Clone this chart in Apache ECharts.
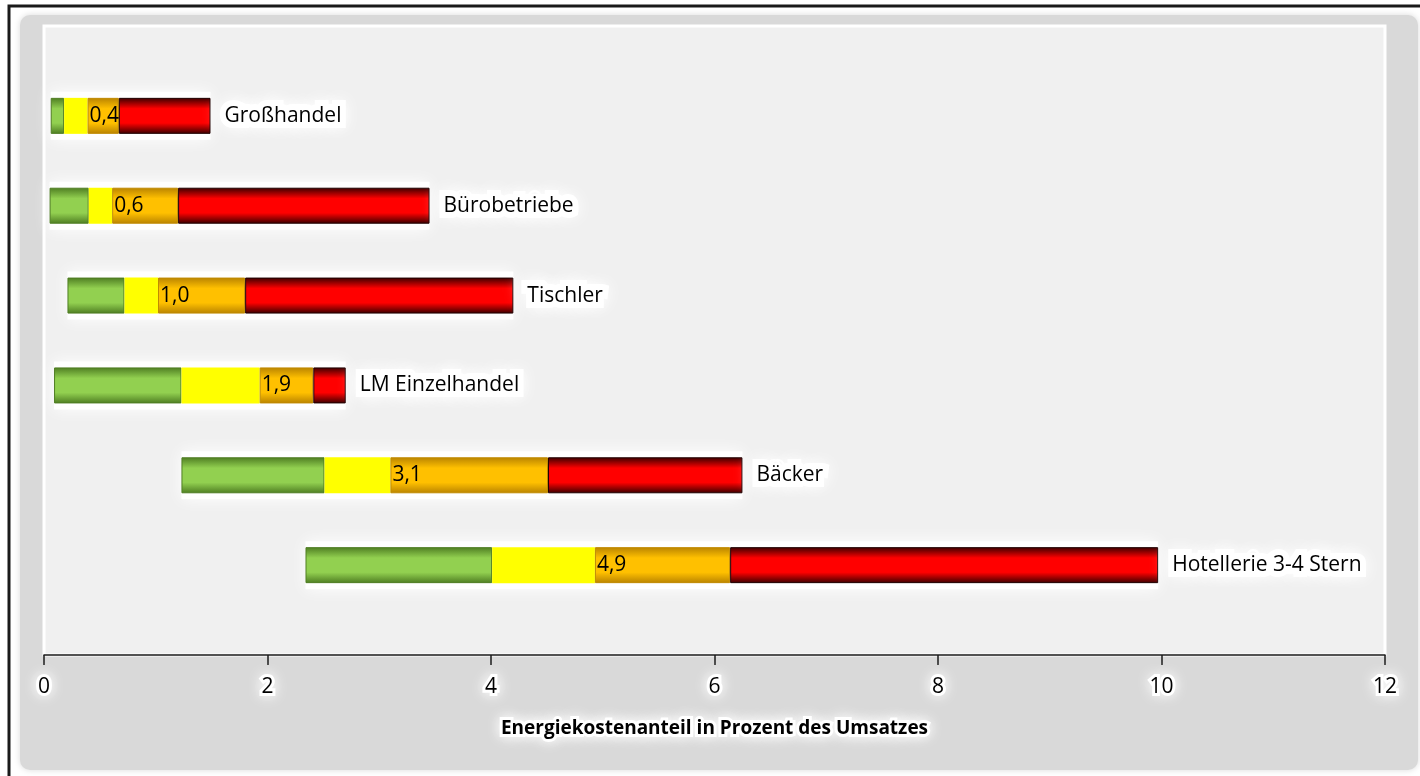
<!DOCTYPE html>
<html>
<head>
<meta charset="utf-8">
<script src="https://cdn.jsdelivr.net/npm/echarts@6/dist/echarts.min.js"></script>
<style>
  html, body { margin: 0; padding: 0; background: #fff; }
  #chart { width: 1420px; height: 776px; }
</style>
</head>
<body>
<div id="chart"></div>
<script>
// branches, top to bottom
const branches = ['Großhandel', 'Bürobetriebe', 'Tischler', 'LM Einzelhandel', 'Bäcker', 'Hotellerie 3-4 Stern'];
// segment lengths (percent of turnover), stacked left to right
const offset = [0.06, 0.05, 0.21, 0.09, 1.23, 2.34];
const green  = [0.12, 0.35, 0.51, 1.14, 1.28, 1.67];
const yellow = [0.21, 0.21, 0.30, 0.70, 0.59, 0.92];
const orange = [0.28, 0.59, 0.78, 0.48, 1.41, 1.21];
const red    = [0.82, 2.25, 2.40, 0.29, 1.74, 3.83];
const median = [0.4, 0.6, 1.0, 1.9, 3.1, 4.9];
const xTicks = [0, 2, 4, 6, 8, 10, 12];

// empty slot above and below so the bars sit like in the original
const pad = arr => ['-'].concat(arr, ['-']);
const span = green.map((v, i) => v + yellow[i] + orange[i] + red[i]);

let chart = echarts.init(document.getElementById('chart'));

const grad = (edge, mid) => new echarts.graphic.LinearGradient(0, 0, 0, 1, [
    { offset: 0, color: edge },
    { offset: 0.3, color: mid },
    { offset: 0.7, color: mid },
    { offset: 1, color: edge }
]);

const glowText = {
    textBorderColor: '#fff',
    textBorderWidth: 6,
    textShadowColor: '#fff',
    textShadowBlur: 14
};

const BAR_W = 36;

const catAxis = {
    type: 'category',
    inverse: true,
    boundaryGap: false,
    data: pad(branches),
    axisLine: { show: false },
    axisTick: { show: false },
    axisLabel: { show: false },
    splitLine: { show: false }
};

const option = {
    animation: false,
    backgroundColor: '#fff',
    graphic: [
        {
            type: 'polyline',
            shape: { points: [[9, 776], [9, 6], [1420, 6]] },
            style: { stroke: '#1a1a1a', lineWidth: 3, fill: null },
            z: -10
        },
        {
            type: 'rect',
            shape: { x: 20, y: 15, width: 1398, height: 755, r: 10 },
            style: { fill: '#d9d9d9', shadowColor: 'rgba(0,0,0,0.15)', shadowBlur: 6 },
            z: -9
        }
    ],
    grid: {
        left: 44,
        right: 35,
        top: 26,
        bottom: 121,
        show: true,
        backgroundColor: '#f0f0f0',
        borderColor: '#ffffff',
        borderWidth: 3
    },
    xAxis: {
        type: 'value',
        min: 0,
        max: 12,
        interval: 2,
        splitLine: { show: false },
        axisLine: { show: true, lineStyle: { color: '#1a1a1a', width: 1.5 } },
        axisTick: { show: true, length: 10, lineStyle: { color: '#1a1a1a', width: 1.5 } },
        axisLabel: {
            margin: 22,
            color: '#000',
            fontFamily: 'Open Sans',
            fontSize: 21,
            formatter: v => (xTicks.indexOf(v) >= 0 ? String(v) : ''),
            ...glowText
        },
        name: 'Energiekostenanteil in Prozent des Umsatzes',
        nameLocation: 'middle',
        nameGap: 64,
        nameTextStyle: {
            color: '#000',
            fontFamily: 'Open Sans',
            fontWeight: 'bold',
            fontSize: 19,
            ...glowText
        }
    },
    // second hidden axis only carries the white halo bars
    yAxis: [catAxis, { ...catAxis }],
    series: [
        // white halo behind each bar
        {
            type: 'bar', stack: 'glow', yAxisIndex: 1, barWidth: BAR_W + 12, z: 1,
            data: pad(offset), itemStyle: { color: 'transparent' }, silent: true
        },
        {
            type: 'bar', stack: 'glow', yAxisIndex: 1, barWidth: BAR_W + 12, z: 1,
            data: pad(span), silent: true,
            itemStyle: { color: '#fff', shadowColor: '#fff', shadowBlur: 16 }
        },
        // the bars
        {
            type: 'bar', stack: 'range', barWidth: BAR_W, z: 2,
            data: pad(offset), itemStyle: { color: 'transparent' }, silent: true
        },
        {
            name: 'grün', type: 'bar', stack: 'range', barWidth: BAR_W, z: 2,
            data: pad(green),
            itemStyle: { color: grad('#4e7d22', '#92d050'), borderColor: '#4e7d22', borderWidth: 1 }
        },
        {
            name: 'gelb', type: 'bar', stack: 'range', barWidth: BAR_W, z: 2,
            data: pad(yellow),
            itemStyle: { color: '#ffff00' }
        },
        {
            name: 'orange', type: 'bar', stack: 'range', barWidth: BAR_W, z: 2,
            data: pad(orange),
            itemStyle: { color: grad('#b98300', '#ffc000'), borderColor: '#c08a00', borderWidth: 1 },
            label: {
                show: true,
                position: 'insideLeft',
                distance: 2,
                color: '#000',
                fontFamily: 'Open Sans',
                fontSize: 21,
                formatter: p => median[p.dataIndex - 1].toFixed(1).replace('.', ',')
            }
        },
        {
            name: 'rot', type: 'bar', stack: 'range', barWidth: BAR_W, z: 2,
            data: pad(red),
            itemStyle: { color: grad('#3a0000', '#ff0000'), borderColor: '#200000', borderWidth: 1 },
            label: {
                show: true,
                position: 'right',
                distance: 14,
                color: '#000',
                fontFamily: 'Open Sans',
                fontSize: 21,
                formatter: p => branches[p.dataIndex - 1],
                textBorderColor: '#fff',
                textBorderWidth: 12,
                textShadowColor: '#fff',
                textShadowBlur: 16
            }
        }
    ]
};

chart.setOption(option);

window.addEventListener('resize', function () {
    chart.resize();
});
</script>
</body>
</html>
